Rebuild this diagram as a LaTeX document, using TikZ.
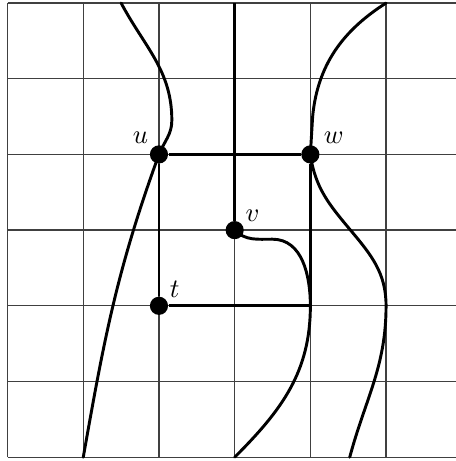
\documentclass[tikz,border=0pt]{standalone}
\usepackage{tikz}
\usetikzlibrary{positioning, calc}
\tikzset{
  vertex/.style={circle, fill=black, inner sep=0pt, minimum size=0.24cm},
  edge/.style={line width=1.1pt},
  strand/.style={line width=1.1pt, line cap=round},
}
\begin{document}
\begin{tikzpicture}

    \useasboundingbox (-0.1,-0.05) rectangle (5.92,6.04);
    \draw[black!75, line width=0.5pt] (0,0) grid (6,6);

    % ends of the strands on the border
    \coordinate (Ua) at (1.5, 6);
    \coordinate (Ub) at (1, 0);
    \coordinate (Vt) at (3, 6);
    \coordinate (Vb) at (3, 0);
    \coordinate (Wa) at (5, 6);
    \coordinate (Wb) at (4.52, 0);
    \coordinate (C) at (4, 2);

    \node[vertex, label={[xshift=2pt, yshift=-2pt]above left:$u$}] (u) at (2, 4) {};
    \node[vertex, label={[xshift=-1pt, yshift=-2pt]above right:$w$}] (w) at (4, 4) {};
    \node[vertex, label={[xshift=-2pt, yshift=-3pt]above right:$v$}] (v) at (3, 3) {};
    \node[vertex, label={[xshift=-2pt, yshift=-3pt]above right:$t$}] (t) at (2, 2) {};

    \draw[edge] (Vt) -- (v);
    \draw[edge] (u) -- (w);
    \draw[edge] (u) -- (t);
    \draw[edge] (t) -- (C);
    \draw[edge] (w) -- (C);

    \draw[strand] (Ua) to[out=-62, in=90] (2.17, 4.45)
                  to[out=-90, in=68] (u.center)
                  to[out=250, in=80] (Ub);
    \draw[strand] (Wa) .. controls (4.5, 5.68) and (4.1, 5.25) .. (4.03, 4.5)
                  -- (w.center);
    \draw[strand] (w.center) to[out=-82, in=130] (4.53, 3)
                  to[out=-50, in=90] (5, 2)
                  to[out=-90, in=75] (Wb);
    \draw[strand] (v.center) to[out=-45, in=180] (3.5, 2.88)
                  to[out=0, in=90] (C)
                  to[out=-90, in=45] (Vb);

\end{tikzpicture}
\end{document}
